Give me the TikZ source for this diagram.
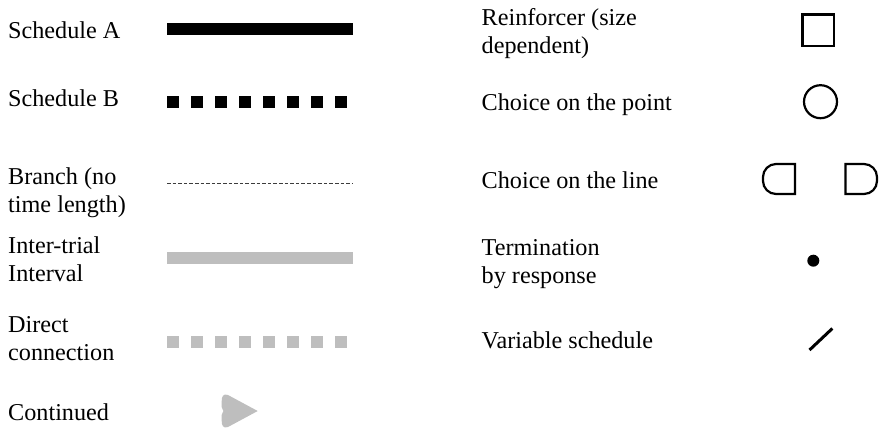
\documentclass[tikz,border=0pt]{standalone}
\usepackage{fontspec}
\setmainfont{Liberation Serif}
\definecolor{itigray}{RGB}{190,190,190}
\definecolor{dashgray}{RGB}{60,60,60}
\begin{document}
\begin{tikzpicture}[x=1bp,y=-1bp,
  label/.style={anchor=base west, inner sep=0pt, align=left,
    font=\fontsize{24.2bp}{28bp}\selectfont},
  bar/.style={line width=12bp},
  blocks/.style={line width=12bp, dash pattern=on 12bp off 12bp},
  outline/.style={draw=black, line width=2.2bp}]
\useasboundingbox (0,0) rectangle (879,430);

% left column labels (two-line labels sit on the baseline of their last line)
\node[label] (schA) at (8,38) {Schedule A};
\node[label] (schB) at (8,106) {Schedule B};
\node[label] (branch) at (8,212.5) {Branch (no\\time length)};
\node[label] (iti) at (8,281.5) {Inter-trial\\Interval};
\node[label] (direct) at (8,360) {Direct\\connection};
\node[label] (cont) at (8,420) {Continued};

% left column samples
\draw[bar, black] (167,29.2) -- (353,29.2);
\draw[blocks, black] (167,101.5) -- (347,101.5);
\draw[dashgray, line width=1bp, dash pattern=on 3.6bp off 2bp] (167,183.3) -- (353,183.3);
\draw[bar, itigray] (167,258) -- (353,258);
\draw[blocks, itigray] (167,342) -- (347,342);
\fill[itigray] (257.7,411)
  -- (228,395)
  .. controls (223,393) and (221.7,397) .. (221.7,401)
  -- (221.7,407)
  .. controls (221.7,409) and (223.5,410) .. (223.5,411)
  .. controls (223.5,412) and (221.7,413) .. (221.7,415)
  -- (221.7,421)
  .. controls (221.7,425) and (223,429) .. (228,427)
  -- cycle;

% right column labels
\node[label] (reinf) at (481.5,53) {Reinforcer (size\\dependent)};
\node[label] (cpoint) at (481.5,110) {Choice on the point};
\node[label] (cline) at (481.5,188.3) {Choice on the line};
\node[label] (term) at (481.5,283.3) {Termination\\by response};
\node[label] (var) at (481.5,348.3) {Variable schedule};

% right column symbols
\draw[outline] (802.5,14.5) rectangle (834,46);
\draw[outline] (820.5,101.7) circle[radius=16.5];
\draw[outline] (795,164) -- (776,164)
  arc[start angle=270, end angle=180, radius=13]
  -- (763,181)
  arc[start angle=180, end angle=90, radius=13]
  -- (795,194) -- cycle;
\draw[outline] (845.5,164) -- (864,164)
  arc[start angle=270, end angle=360, radius=13]
  -- (877,181)
  arc[start angle=0, end angle=90, radius=13]
  -- (845.5,194) -- cycle;
\fill[black] (813.3,260.7) circle[radius=6];
\draw[black, line width=3bp] (809.5,350) -- (832.3,328.5);
\end{tikzpicture}
\end{document}
